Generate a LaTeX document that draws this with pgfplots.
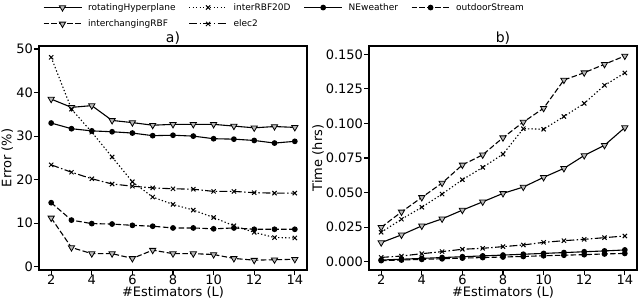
\documentclass[border=0pt]{standalone}
\usepackage{fontspec}
\setmainfont{DejaVu Sans}
\usepackage{pgfplots}
\pgfplotsset{compat=1.18}
\pgfplotsset{
 myax/.style={
  scale only axis, width=268pt, height=224pt,
  xmin=1.4, xmax=14.6,
  xtick={2,4,...,14},
  axis line style={line width=1.6pt},
  tick style={line width=1.2pt, black},
  major tick length=5pt,
  tick align=outside,
  xtick pos=bottom, ytick pos=left,
  tick label style={font=\fontsize{13}{14}\selectfont},
  xticklabel style={yshift=4pt},
  yticklabel style={xshift=2.5pt},
  label style={font=\fontsize{13}{14}\selectfont},
  title style={font=\fontsize{14}{15}\selectfont, yshift=-8pt},
  /pgf/number format/assume math mode=true,
  xlabel={\#Estimators (L)},
  xlabel style={yshift=5pt},
  every axis plot/.append style={line width=1.1pt, black},
 },
 rotS/.style={solid, mark=triangle*, mark size=3.6pt, mark options={rotate=180, fill=gray!55, draw=black, solid, line width=0.8pt}},
 ichS/.style={dash pattern=on 5.5pt off 2.4pt, mark=triangle*, mark size=3.6pt, mark options={rotate=180, fill=gray!55, draw=black, solid, line width=0.8pt}},
 irbS/.style={dash pattern=on 1.3pt off 2.2pt, mark=x, mark size=3pt, mark options={solid, line width=1pt}},
 elcS/.style={dash pattern=on 8pt off 2.4pt on 1.5pt off 2.4pt, mark=x, mark size=3pt, mark options={solid, line width=1pt}},
 newS/.style={solid, mark=*, mark size=2.3pt, mark options={solid, fill=black}},
 outS/.style={dash pattern=on 5.5pt off 2.4pt, mark=*, mark size=2.3pt, mark options={solid, fill=black}},
}
\begin{document}
\begin{tikzpicture}
\begin{axis}[myax, at={(39pt,31pt)}, anchor=south west,
  ymin=-0.76, ymax=50.7, ytick={0,10,...,50},
  ylabel={Error (\%)}, title={a)},
  ylabel style={at={(axis description cs:-0.118,0.5)}, anchor=center},
  legend columns=4,
  legend style={at={(axis description cs:0.014,1.2)}, anchor=north west, draw=none, fill=none,
    font=\fontsize{9}{10}\selectfont, inner sep=0pt, row sep=4pt,
    /tikz/every odd column/.append style={column sep=4pt},
    /tikz/every even column/.append style={column sep=11pt}},
  legend cell align=left,
  legend image code/.code={\draw[mark repeat=2,mark phase=2,#1] plot coordinates {(0pt,0pt) (19pt,0pt) (38pt,0pt)};},
]
\addplot[rotS] coordinates {(2,38.5)(3,36.6)(4,37.0)(5,33.6)(6,33.1)(7,32.5)(8,32.7)(9,32.7)(10,32.7)(11,32.3)(12,31.9)(13,32.2)(14,32.0)};
\addlegendentry{rotatingHyperplane}
\addplot[irbS] coordinates {(2,48.1)(3,36.2)(4,30.9)(5,25.2)(6,19.5)(7,16.0)(8,14.3)(9,13.0)(10,11.3)(11,9.4)(12,7.9)(13,6.7)(14,6.6)};
\addlegendentry{interRBF20D}
\addplot[newS] coordinates {(2,33.0)(3,31.7)(4,31.2)(5,31.0)(6,30.7)(7,30.1)(8,30.2)(9,30.0)(10,29.4)(11,29.3)(12,29.0)(13,28.4)(14,28.8)};
\addlegendentry{NEweather}
\addplot[outS] coordinates {(2,14.7)(3,10.7)(4,9.9)(5,9.8)(6,9.5)(7,9.3)(8,8.9)(9,8.9)(10,8.7)(11,8.9)(12,8.6)(13,8.6)(14,8.6)};
\addlegendentry{outdoorStream}
\addplot[ichS] coordinates {(2,11.2)(3,4.4)(4,3.0)(5,3.0)(6,1.9)(7,3.8)(8,3.0)(9,3.0)(10,2.8)(11,1.9)(12,1.5)(13,1.6)(14,1.7)};
\addlegendentry{interchangingRBF}
\addplot[elcS] coordinates {(2,23.4)(3,21.7)(4,20.2)(5,19.0)(6,18.5)(7,18.1)(8,17.9)(9,17.8)(10,17.3)(11,17.3)(12,17.0)(13,16.9)(14,16.9)};
\addlegendentry{elec2}
\end{axis}
\begin{axis}[myax, at={(369pt,31pt)}, anchor=south west,
  ymin=-0.006, ymax=0.156, ytick={0,0.025,...,0.15},
  scaled y ticks=false,
  yticklabel style={/pgf/number format/.cd, fixed, fixed zerofill, precision=3},
  ylabel={Time (hrs)}, title={b)},
  ylabel style={at={(axis description cs:-0.19,0.5)}, anchor=center},
]
\addplot[rotS] coordinates {(2,0.0138)(3,0.0194)(4,0.0259)(5,0.0310)(6,0.0373)(7,0.0433)(8,0.0494)(9,0.0540)(10,0.0610)(11,0.0675)(12,0.0768)(13,0.0842)(14,0.0970)};
\addplot[irbS] coordinates {(2,0.0213)(3,0.0307)(4,0.0394)(5,0.0489)(6,0.0593)(7,0.0682)(8,0.0778)(9,0.0962)(10,0.0958)(11,0.1050)(12,0.1145)(13,0.1276)(14,0.1365)};
\addplot[newS] coordinates {(2,0.0012)(3,0.0018)(4,0.0024)(5,0.0030)(6,0.0036)(7,0.0042)(8,0.0048)(9,0.0054)(10,0.0060)(11,0.0066)(12,0.0072)(13,0.0078)(14,0.0085)};
\addplot[outS] coordinates {(2,0.0008)(3,0.0012)(4,0.0017)(5,0.0021)(6,0.0026)(7,0.0030)(8,0.0034)(9,0.0038)(10,0.0043)(11,0.0047)(12,0.0051)(13,0.0056)(14,0.0060)};
\addplot[ichS] coordinates {(2,0.0249)(3,0.0360)(4,0.0465)(5,0.0569)(6,0.0700)(7,0.0773)(8,0.0897)(9,0.1010)(10,0.1110)(11,0.1314)(12,0.1367)(13,0.1428)(14,0.1488)};
\addplot[elcS] coordinates {(2,0.0031)(3,0.0041)(4,0.0058)(5,0.0073)(6,0.0090)(7,0.0097)(8,0.0109)(9,0.0121)(10,0.0140)(11,0.0152)(12,0.0162)(13,0.0174)(14,0.0186)};
\end{axis}
\pgfresetboundingbox
\path[use as bounding box] (0,0) rectangle (640pt,301pt);
\end{tikzpicture}
\end{document}
